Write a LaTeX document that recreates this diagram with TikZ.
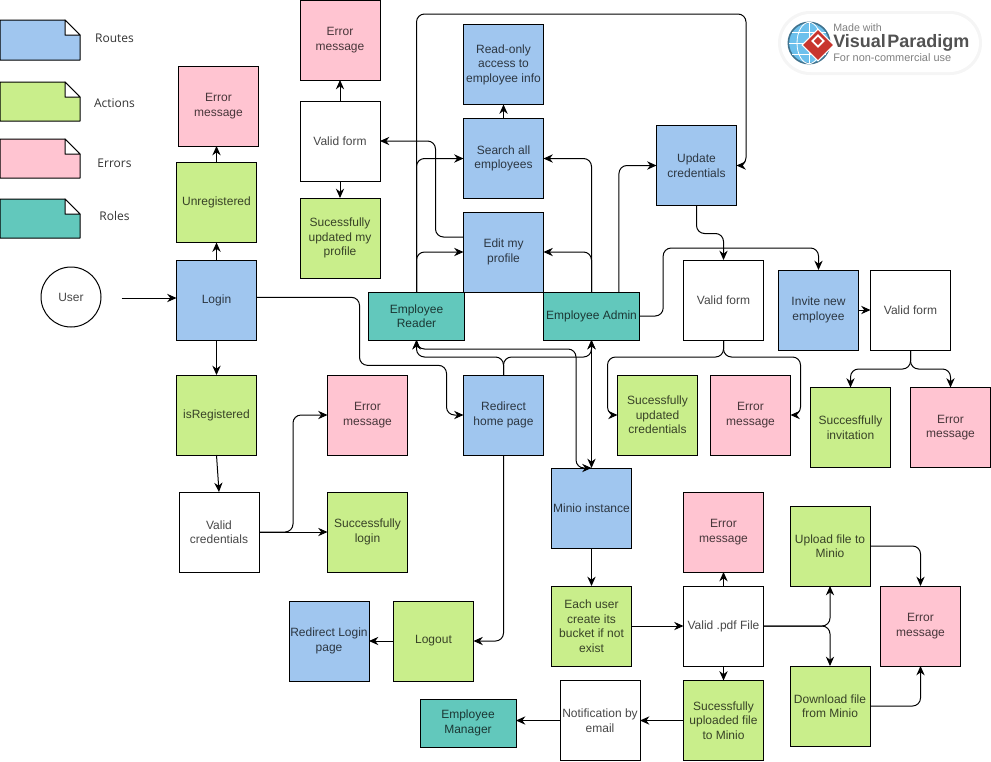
\documentclass[tikz,border=0pt]{standalone}
\usepackage{fontspec}
\setmainfont{Liberation Sans}
\newfontfamily\legendfont{Open Sans}
\usetikzlibrary{arrows.meta,shapes.geometric}

\begin{document}
\begin{tikzpicture}[
        x=0.75pt, y=-0.75pt,
        >={Stealth[length=7pt,width=6.2pt]},
        plain box/.style = {
            draw, line width=0.75pt, inner sep=0pt, outer sep=0pt,
            minimum width=60pt, minimum height=60pt, align=center,
            font=\fontsize{9}{10.9}\selectfont, text=black, text opacity=0.72
        },
        route/.style = {plain box, fill=routeblue},
        action/.style = {plain box, fill=actiongreen},
        failure/.style = {plain box, fill=errorpink},
        role/.style = {plain box, fill=roleteal, minimum width=71.5pt, minimum height=36pt},
        note/.style = {draw, line width=0.75pt, line join=round},
        legend label/.style = {font=\legendfont\fontsize{9}{11}\selectfont, text=black!80},
        conn/.style = {draw, ->, line width=0.75pt, rounded corners=6pt},
    ]
    \definecolor{routeblue}{HTML}{A0C6EF}
    \definecolor{actiongreen}{HTML}{C9EE8B}
    \definecolor{errorpink}{HTML}{FFC4D1}
    \definecolor{roleteal}{HTML}{62C8BC}
    \definecolor{logoblue}{HTML}{6CC0EC}
    \definecolor{logored}{HTML}{C8352E}
    \useasboundingbox (0,0) rectangle (991,761);

    % legend
    \foreach \ytop/\ybot/\col/\txt/\ytxt in {
            20/60/routeblue/Routes/38,
            82/121/actiongreen/Actions/103,
            139/178/errorpink/Errors/163,
            199/238/roleteal/Roles/216} {
        \draw[note, fill=\col] (0,\ytop) -- (65,\ytop) -- (80,\ytop+15) -- (80,\ybot) -- (0,\ybot) -- cycle;
        \draw[note, fill=white] (65,\ytop) -- (80,\ytop+15) -- (65,\ytop+15) -- cycle;
        \node[legend label] (legend \txt) at (114.5,\ytxt) {\txt};
    }

    % logo
    \fill[black!4, rounded corners=24pt] (778,11) rectangle (982,75);
    \fill[white, rounded corners=22pt] (781,14) rectangle (979,72);

    % login
    \node[draw, circle, line width=0.75pt, minimum size=45pt, inner sep=0pt, font=\fontsize{9}{11}\selectfont, text opacity=0.72] (user) at (71,297) {User};
    \node[route] (login) at (216.5,300) {\raisebox{1.5pt}{Login}};
    \node[action] (unregistered) at (216.5,202.5) {Unregistered};
    \node[failure] (error unreg) at (218.5,106) {Error\\message};
    \node[action] (registered) at (216.5,415) {isRegistered};
    \node[plain box] (credentials) at (219,532) {Valid\\credentials};
    \node[failure] (error login) at (367.5,415) {Error\\message};
    \node[action] (login ok) at (367.5,532) {Successfully\\login};
    \node[route] (redirect login) at (329,641) {Redirect Login\\page};
    \node[action] (logout) at (433.5,641) {Logout};

    % employees
    \node[route] (home) at (503.5,415) {Redirect\\home page};
    \node[role] (reader) at (416.5,316) {Employee\\Reader};
    \node[role] (admin) at (591.5,316) {Employee Admin};
    \node[route] (edit) at (503.5,252) {Edit my\\profile};
    \node[route] (search) at (503.5,158.5) {Search all\\employees};
    \node[route] (readonly) at (503.5,64.5) {Read-only\\access to\\employee info};
    \node[plain box] (form profile) at (340,141) {Valid form};
    \node[failure] (error profile) at (340,40) {Error\\message};
    \node[action] (profile ok) at (340,238) {Sucessfully\\updated my\\profile};
    \node[route] (update) at (696.5,165.5) {Update\\credentials};
    \node[plain box] (form cred) at (723.5,300) {Valid form};
    \node[action] (cred ok) at (657.5,415) {Sucessfully\\updated\\credentials};
    \node[failure] (error cred) at (750.5,415) {Error\\message};
    \node[route] (invite) at (818.5,310) {Invite new\\employee};
    \node[plain box] (form invite) at (910.5,310) {Valid form};
    \node[action] (invite ok) at (850.5,427.5) {Succesffully\\invitation};
    \node[failure] (error invite) at (950.5,427.5) {Error\\message};

    % minio
    \node[route] (minio) at (591.5,508) {Minio instance};
    \node[action] (bucket) at (591.5,626) {Each user\\create its\\bucket if not\\exist};
    \node[plain box] (pdf) at (723.5,626) {Valid .pdf File};
    \node[failure] (error pdf) at (723.5,532) {Error\\message};
    \node[action] (uploaded) at (723.5,720.5) {Sucessfully\\uploaded file\\to Minio};
    \node[plain box] (email) at (600,720.5) {Notification by\\email};
    \node[role, minimum width=72pt] (manager) at (468,723) {Employee\\Manager};
    \node[action] (upload) at (830,546) {Upload file to\\Minio};
    \node[action] (download) at (830,706) {Download file\\from Minio};
    \node[failure] (error file) at (920.5,626) {Error\\message};

    \draw[conn, shorten <=15pt] ([yshift=-0.75pt]user.east) -- ([yshift=1.5pt]login.west);
    \draw[conn] (login) -- (unregistered);
    \draw[conn] (unregistered.north) -- (error unreg.south -| unregistered.north);
    \draw[conn] (login) -- (registered);
    \draw[conn] (registered.south) -- (credentials.north);
    \draw[conn] (credentials.east) -- ++(34,0) |- (error login.west);
    \draw[conn] (credentials.east) -- (login ok.west);
    \draw[conn] ([yshift=2pt]login.east) -- ++(103,0) -- ++(0,68) -- ++(87,0) |- (home.west);
    \draw[conn] (home.north) -- ++(0,-18) -| (reader.south);
    \draw[conn] (home.north) -- ++(0,-18) -| (admin.south);
    \draw[conn, <->] (reader.south) |- (576,349) |- (minio.north);
    \draw[conn, <->] (admin.south) -- (minio.north);
    \draw[conn] (reader.north) |- (edit.west);
    \draw[conn] (reader.north) |- (search.west);
    \draw[conn] (reader.north) |- (746,14) -- (746,165.5) -- (update.east);
    \draw[conn] (admin.north) |- (edit.east);
    \draw[conn] (admin.north) |- (search.east);
    \draw[conn] ([xshift=20.6pt]admin.north) |- (update.west);
    \draw[conn] ([yshift=11.25pt]edit.west) -- ++(-28,0) |- (form profile.east);
    \draw[conn] (form profile) -- (error profile);
    \draw[conn] (form profile) -- (profile ok);
    \draw[conn] (search) -- (readonly);
    \draw[conn] (update.south) -- ++(0,28) -| (form cred.north);
    \draw[conn] (admin.east) -- ++(24,0) -- ++(0,-68) -| (invite.north);
    \draw[conn] (invite) -- (form invite);
    \draw[conn] (form cred.south) -- ++(0,17) -- ++(-116,0) |- (cred ok.west);
    \draw[conn] (form cred.south) -- ++(0,17) -- ++(77,0) |- (error cred.east);
    \draw[conn] (form invite.south) -- ++(0,19) -| (invite ok.north);
    \draw[conn] (form invite.south) -- ++(0,19) -| (error invite.north);
    \draw[conn] (home.south) |- (logout.east);
    \draw[conn] (logout) -- (redirect login);
    \draw[conn] (minio) -- (bucket);
    \draw[conn] (bucket) -- (pdf);
    \draw[conn] (pdf) -- (error pdf);
    \draw[conn] (pdf) -- (uploaded);
    \draw[conn] (pdf.east) -| (upload.south);
    \draw[conn] (pdf.east) -| (download.north);
    \draw[conn] (upload.east) -| (error file.north);
    \draw[conn] (download.east) -| (error file.south);
    \draw[conn] (uploaded) -- (email);
    \draw[conn] (email) -- (manager.east |- email);

    % logo marks
    \draw[line width=1.2pt, draw=black!40!logoblue, fill=logoblue] (809,43) circle (15.5pt);
    \draw[white, line width=0.6pt] (809,22.5) -- (809,63.5) (789,43) -- (829,43) (792,32) -- (826,32) (792,54) -- (826,54);
    \draw[white, line width=0.6pt] (809,43) ellipse (9pt and 15.5pt);
    \node[diamond, fill=logored, draw=white, line width=0.8pt, minimum size=24pt, inner sep=0pt] (logo mark) at (818,45) {};
    \node[draw=white, line width=1.4pt, minimum size=6pt, inner sep=0pt, rotate=45, fill=logored] (logo core) at (818,41) {};
    \node[anchor=west, inner sep=0pt, text=black!50, font=\fontsize{8}{9}\selectfont] (made with) at (833,28) {Made with};
    \node[anchor=west, inner sep=0pt, text=black!68, font=\fontsize{13.5}{14}\selectfont\bfseries] (logo name) at (833,43) {Visual\kern1pt Paradigm};
    \node[anchor=west, inner sep=0pt, text=black!50, font=\fontsize{8.2}{9}\selectfont] (logo note) at (833,58) {For non-commercial use};
\end{tikzpicture}
\end{document}
